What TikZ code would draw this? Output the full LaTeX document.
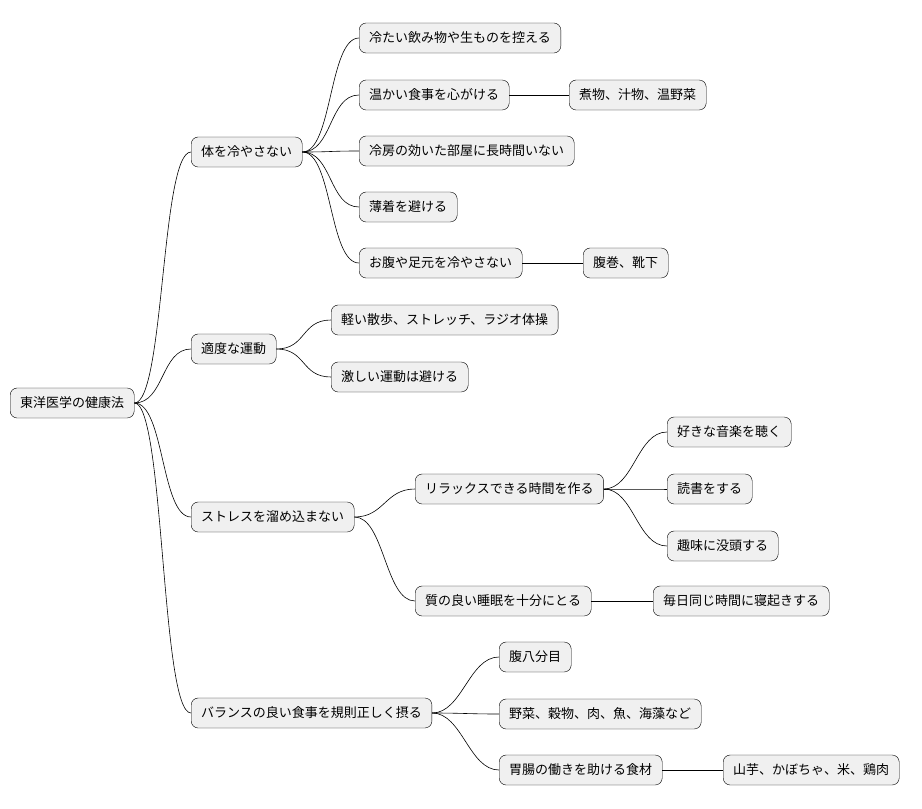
\documentclass[tikz,border=0pt]{standalone}
\usepackage{fontspec}
\setmainfont{Noto Sans CJK JP}
\begin{document}
\begin{tikzpicture}[x=1pt,y=-1pt,
		every node/.style={
			rectangle,
			draw=black,
			rounded corners=7pt,
			fill=black!6,
			minimum height=30pt,
			inner xsep=10pt,
			anchor=west,
			font=\fontsize{13}{15}\selectfont
		},
		link/.style={draw=black, line width=0.6pt}]
	\useasboundingbox (0,0) rectangle (922,809);

	%root
	\node (root) at (10,403) {東洋医学の健康法};

	%branch 1
	\node (a) at (191,152) {体を冷やさない};
	\node (a1) at (359,38) {冷たい飲み物や生ものを控える};
	\node (a2) at (359,95) {温かい食事を心がける};
	\node (a21) at (569,95) {煮物、汁物、温野菜};
	\node (a3) at (359,151) {冷房の効いた部屋に長時間いない};
	\node (a4) at (359,207) {薄着を避ける};
	\node (a5) at (359,263) {お腹や足元を冷やさない};
	\node (a51) at (583,263) {腹巻、靴下};

	%branch 2
	\node (b) at (191,349) {適度な運動};
	\node (b1) at (331,320) {軽い散歩、ストレッチ、ラジオ体操};
	\node (b2) at (331,377) {激しい運動は避ける};

	%branch 3
	\node (c) at (191,517) {ストレスを溜め込まない};
	\node (c1) at (415,489) {リラックスできる時間を作る};
	\node (c11) at (667,432) {好きな音楽を聴く};
	\node (c12) at (667,489) {読書をする};
	\node (c13) at (667,546) {趣味に没頭する};
	\node (c2) at (415,601) {質の良い睡眠を十分にとる};
	\node (c21) at (653,601) {毎日同じ時間に寝起きする};

	%branch 4
	\node (d) at (191,713) {バランスの良い食事を規則正しく摂る};
	\node (d1) at (499,657) {腹八分目};
	\node (d2) at (499,714) {野菜、穀物、肉、魚、海藻など};
	\node (d3) at (499,770) {胃腸の働きを助ける食材};
	\node (d31) at (723,770) {山芋、かぼちゃ、米、鶏肉};

	%links
	\foreach \p/\c in {root/a,root/b,root/c,root/d,
		a/a1,a/a2,a/a3,a/a4,a/a5,a2/a21,a5/a51,
		b/b1,b/b2,
		c/c1,c/c2,c1/c11,c1/c12,c1/c13,c2/c21,
		d/d1,d/d2,d/d3,d3/d31}
		\draw[link] (\p.east) .. controls ([xshift=30pt]\p.east) and ([xshift=-30pt]\c.west) .. (\c.west);

\end{tikzpicture}
\end{document}
